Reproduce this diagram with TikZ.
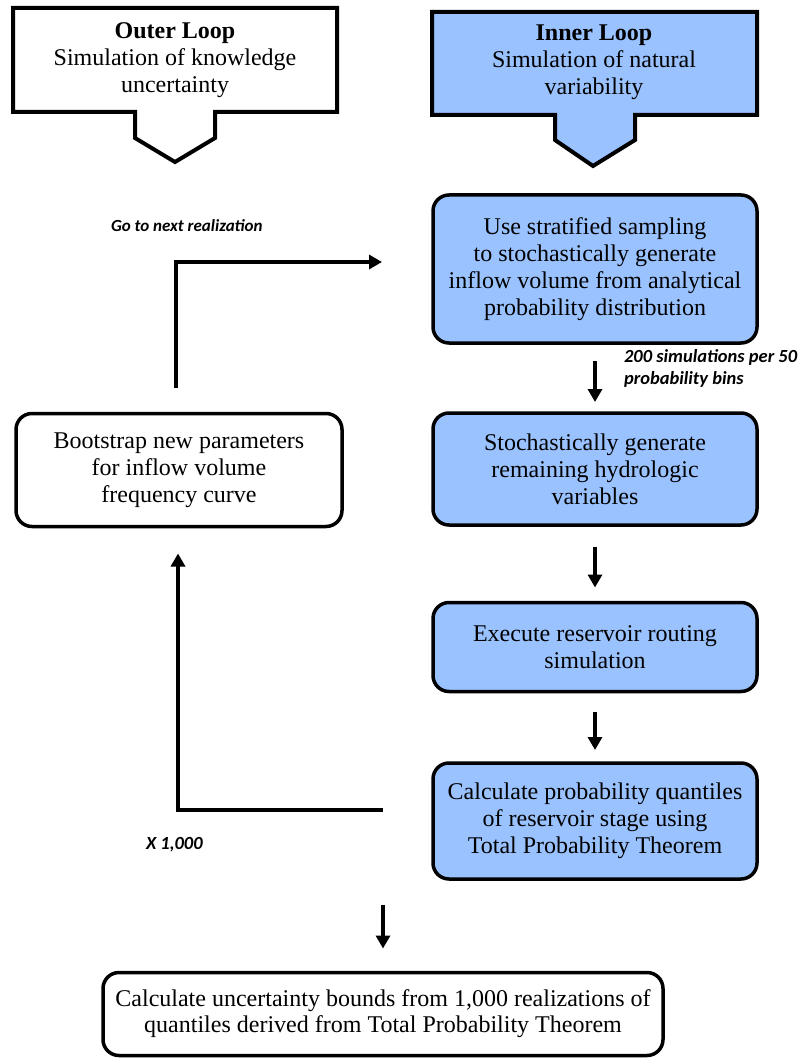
\documentclass[tikz,border=0pt]{standalone}
\usepackage{fontspec}
\setmainfont{Liberation Serif}
\newfontfamily\lblfont{Carlito}
\usetikzlibrary{arrows.meta}
\definecolor{boxblue}{RGB}{153,194,255}
\begin{document}
\begin{tikzpicture}[x=1pt,y=-1pt,
  every node/.style={inner sep=0pt, outer sep=0pt},
  proc/.style={draw=black, line width=3.5pt, rounded corners=16pt, align=center,
    font=\fontsize{24}{27}\selectfont},
  bluebox/.style={proc, fill=boxblue},
  whitebox/.style={proc, fill=white},
  callout/.style={draw=black, line width=4pt, line join=miter},
  conn/.style={line width=4pt, -{Triangle[width=14pt,length=13pt]}},
  lbl/.style={font=\lblfont\bfseries\itshape\fontsize{18.5}{22}\selectfont, align=left},
  calltext/.style={align=center, font=\fontsize{24}{27}\selectfont}
]
\useasboundingbox (0,0) rectangle (805,1059);

% callout shapes
\draw[callout, fill=white] (13,8) -- (337,8) -- (337,112) -- (215,112) -- (215,138)
  -- (175,162) -- (135,138) -- (135,112) -- (13,112) -- cycle;
\draw[callout, fill=boxblue] (432,12) -- (757,12) -- (757,115) -- (635,115) -- (635,140)
  -- (593,166) -- (555,140) -- (555,115) -- (432,115) -- cycle;
\node[calltext] (outertxt) at (175,60) {\textbf{Outer Loop}\\Simulation of knowledge\\uncertainty};
\node[calltext] (innertxt) at (594,62) {\textbf{Inner Loop}\\Simulation of natural\\variability};

% process boxes
\node[bluebox, minimum width=324pt, minimum height=148pt] (box1) at (595,269)
  {Use stratified sampling\\to stochastically generate\\inflow volume from analytical\\probability distribution};
\node[bluebox, minimum width=324pt, minimum height=112pt] (box2) at (595,469)
  {Stochastically generate\\remaining hydrologic\\variables};
\node[bluebox, minimum width=324pt, minimum height=89pt] (box3) at (595,647)
  {Execute reservoir routing\\simulation};
\node[bluebox, minimum width=324pt, minimum height=116pt] (box4) at (595,821)
  {Calculate probability quantiles\\of reservoir stage using\\Total Probability Theorem};
\node[whitebox, minimum width=326pt, minimum height=113pt] (boot) at (179,470)
  {Bootstrap new parameters\\for inflow volume\\frequency curve};
\node[whitebox, minimum width=560pt, minimum height=83pt,
  font=\fontsize{24}{26}\selectfont] (final) at (383,1014)
  {Calculate uncertainty bounds from 1,000 realizations of\\quantiles derived from Total Probability Theorem};

% vertical arrows of the inner loop
\draw[conn] ([yshift=-18pt]box1.south) -- ([yshift=11pt]box2.north);
\draw[conn] ([yshift=-22pt]box2.south) -- ([yshift=15pt]box3.north);
\draw[conn] ([yshift=-20pt]box3.south) -- ([yshift=13pt]box4.north);

% final arrow
\coordinate (a4s) at (383,905);
\draw[conn] (a4s) -- ([yshift=24pt]final.north);

% loop back to bootstrap
\coordinate (lp1) at (383,810);
\coordinate (lp2) at (178,810);
\draw[conn] (lp1) -- (lp2) -- ([yshift=-27pt]boot.south -| lp2);

% from bootstrap to next realization
\coordinate (up1) at (176,387);
\coordinate (upc) at (176,262);
\coordinate (upr) at (382,262);
\draw[conn] ([yshift=26pt]boot.north -| up1) -- (upc) -- (upr);

% labels
\node[lbl, anchor=west, font=\lblfont\bfseries\itshape\fontsize{17}{21}\selectfont] (lblgo) at (111,226) {Go to next realization};
\node[lbl, anchor=north west] (lblsim) at (624,350) {200 simulations per 50\\probability bins};
\node[lbl, anchor=west] (lblx) at (146,845) {X 1,000};
\end{tikzpicture}
\end{document}
